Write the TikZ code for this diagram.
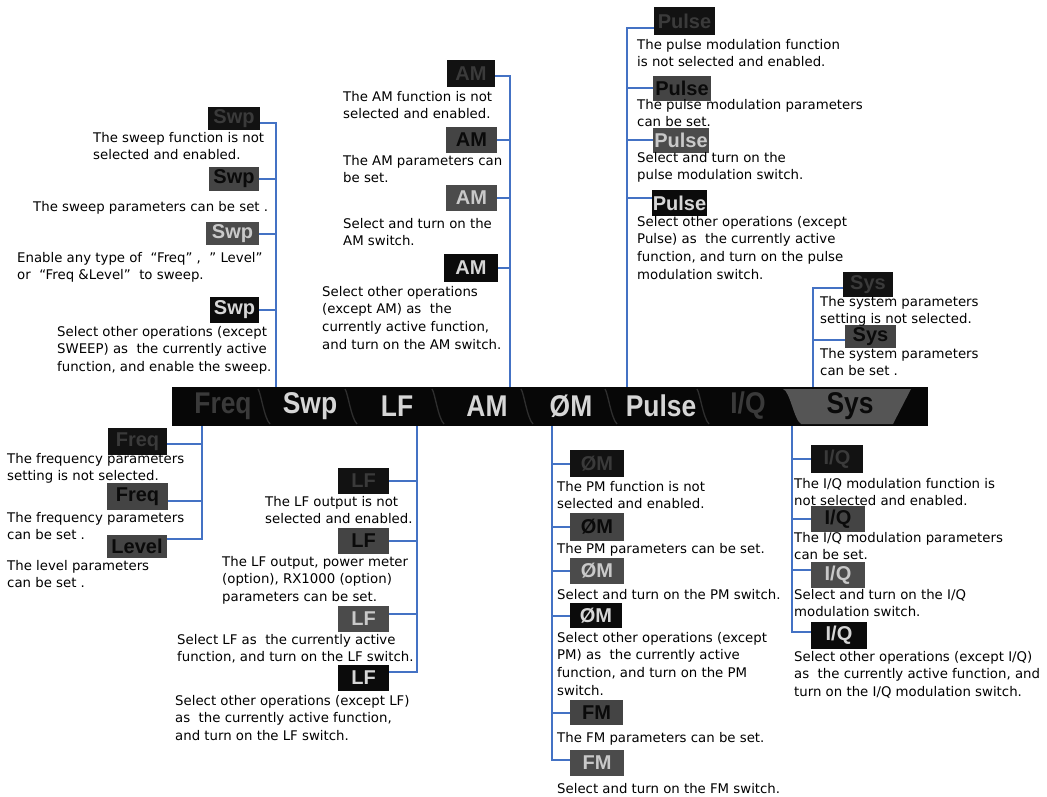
\documentclass[tikz,border=0pt]{standalone}
\usepackage{graphicx}
\usepackage{fontspec}
\setmainfont{DejaVu Sans}
\newfontfamily\iconfont{Liberation Sans}
\newcommand{\tabtxt}[1]{\scalebox{0.88}[1]{#1}}
\definecolor{linkblue}{RGB}{68,114,196}
\definecolor{dimfill}{HTML}{121212}
\definecolor{dimtext}{HTML}{3A3A3A}
\definecolor{setfill}{HTML}{444444}
\definecolor{settext}{HTML}{0A0A0A}
\definecolor{onfill}{HTML}{4B4B4B}
\definecolor{ontext}{HTML}{C9C9C9}
\definecolor{actfill}{HTML}{0B0B0B}
\definecolor{acttext}{HTML}{D6D6D6}
\definecolor{barfill}{HTML}{070707}
\definecolor{sepcol}{HTML}{2E2E2E}
\definecolor{systab}{HTML}{555555}
\begin{document}
\begin{tikzpicture}[x=1pt,y=-1pt,
  conn/.style={draw=linkblue, line width=2pt},
  desc/.style={anchor=north west, inner sep=0pt, align=left, text=black,
    font=\fontsize{13.3}{17.6}\selectfont},
  icon/.style={inner sep=0pt, font=\iconfont\bfseries\fontsize{20}{20}\selectfont},
  icdim/.style={icon, fill=dimfill, text=dimtext},
  icset/.style={icon, fill=setfill, text=settext},
  icon on/.style={icon, fill=onfill, text=ontext},
  icact/.style={icon, fill=actfill, text=acttext},
  tablabel/.style={inner sep=0pt, font=\iconfont\bfseries\fontsize{30}{30}\selectfont},
  sepline/.style={draw=sepcol, line width=1.3pt}
]
\useasboundingbox (0,0) rectangle (1047,797);
\fill[white] (0,0) rectangle (1047,797);

% ---------- main bar ----------
\node[fill=barfill, inner sep=0pt, minimum width=756pt, minimum height=39pt] (bar) at (550,406.5) {};
\fill[systab] (783,389) .. controls (790,391) and (794,420) .. (801,424) -- (893,424) -- (911,389) -- cycle;
\foreach \s in {258,345,432,521,605,697}
  \draw[sepline] (\s,389) .. controls (\s+3,393) and (\s+6,418) .. (\s+12,424);
\node[tablabel, text=dimtext] (tfreq) at (223,406) {\tabtxt{Freq}};
\node[tablabel, text=acttext] (tswp) at (310,406) {\tabtxt{Swp}};
\node[tablabel, text=acttext] (tlf) at (397,406) {\tabtxt{LF}};
\node[tablabel, text=acttext] (tam) at (487,406) {\tabtxt{AM}};
\node[tablabel, text=acttext] (tpm) at (571,406) {\tabtxt{ØM}};
\node[tablabel, text=acttext] (tpulse) at (661,406) {\tabtxt{Pulse}};
\node[tablabel, text=dimtext] (tiq) at (748,406) {\tabtxt{I/Q}};
\node[tablabel, text=settext] (tsys) at (850,406) {\tabtxt{Sys}};

\coordinate (swpB) at (276,387);
\coordinate (amB) at (510,387);
\coordinate (pulseB) at (627,387);
\coordinate (sysB) at (813,387);
\coordinate (freqB) at (202,426);
\coordinate (lfB) at (417,426);
\coordinate (pmB) at (552,426);
\coordinate (iqB) at (792,426);

% ---------- Swp group ----------
\node[icdim, minimum width=52pt, minimum height=23pt] (s1) at (234,118.5) {Swp};
\node[icset, minimum width=50pt, minimum height=24pt] (s2) at (234,179) {Swp};
\node[icon on, minimum width=53pt, minimum height=23pt] (s3) at (232.5,233.5) {Swp};
\node[icact, minimum width=49pt, minimum height=26pt] (s4) at (234.5,310) {Swp};
\draw[conn] ([yshift=-5pt]s1.east) -| (swpB);
\draw[conn] (s2.east) -- (s2.east -| swpB);
\draw[conn] (s3.east) -- (s3.east -| swpB);
\draw[conn] (s4.east) -- (s4.east -| swpB);
\node[desc] (ds1) at (93,132) {The sweep function is not\\selected and enabled.};
\node[desc] (ds2) at (33,201) {The sweep parameters can be set .};
\node[desc] (ds3) at (17,252) {Enable any type of\ \ “Freq”\ ,\ \ ” Level”\\or\ \ “Freq \&Level”\ \ to sweep.};
\node[desc] (ds4) at (57,326) {Select other operations (except\\SWEEP) as\ \ the currently active\\function, and enable the sweep.};

% ---------- AM group ----------
\node[icdim, minimum width=48pt, minimum height=27pt] (a1) at (471,73.5) {AM};
\node[icset, minimum width=51pt, minimum height=26pt] (a2) at (471.5,140) {AM};
\node[icon on, minimum width=51pt, minimum height=26pt] (a3) at (471.5,198) {AM};
\node[icact, minimum width=54pt, minimum height=28pt] (a4) at (471,268) {AM};
\draw[conn] ([yshift=-3pt]a1.east) -| (amB);
\draw[conn] (a2.east) -- (a2.east -| amB);
\draw[conn] (a3.east) -- (a3.east -| amB);
\draw[conn] (a4.east) -- (a4.east -| amB);
\node[desc] (da1) at (343,91) {The AM function is not\\selected and enabled.};
\node[desc] (da2) at (343,155) {The AM parameters can\\be set.};
\node[desc] (da3) at (343,218) {Select and turn on the\\AM switch.};
\node[desc] (da4) at (322,286) {Select other operations\\(except AM) as\ \ the\\currently active function,\\and turn on the AM switch.};

% ---------- Pulse group ----------
\node[icdim, minimum width=61pt, minimum height=28pt] (p1) at (684.5,21) {Pulse};
\node[icset, minimum width=58pt, minimum height=25pt] (p2) at (682,88.5) {Pulse};
\node[icon on, minimum width=56pt, minimum height=25pt] (p3) at (681,140.5) {Pulse};
\node[icact, minimum width=55pt, minimum height=26pt] (p4) at (679.5,203) {Pulse};
\draw[conn] ([yshift=-7pt]p1.west) -| (pulseB);
\draw[conn] (p2.west) -- (p2.west -| pulseB);
\draw[conn] (p3.west) -- (p3.west -| pulseB);
\draw[conn] ([yshift=5pt]p4.west) -- ([yshift=5pt]p4.west -| pulseB);
\node[desc] (dp1) at (637,39) {The pulse modulation function\\is not selected and enabled.};
\node[desc] (dp2) at (637,99) {The pulse modulation parameters\\can be set.};
\node[desc] (dp3) at (637,152) {Select and turn on the\\pulse modulation switch.};
\node[desc] (dp4) at (637,216) {Select other operations (except\\Pulse) as\ \ the currently active\\function, and turn on the pulse\\modulation switch.};

% ---------- Sys group ----------
\node[icdim, minimum width=50pt, minimum height=25pt] (y1) at (868,284.5) {Sys};
\node[icset, minimum width=51pt, minimum height=23pt] (y2) at (870.5,336.5) {Sys};
\draw[conn] ([yshift=-3pt]y1.west) -| (sysB);
\draw[conn] ([yshift=-3pt]y2.west) -- ([yshift=-3pt]y2.west -| sysB);
\node[desc] (dy1) at (820,296) {The system parameters\\setting is not selected.};
\node[desc] (dy2) at (820,348) {The system parameters\\can be set .};

% ---------- Freq group ----------
\node[icdim, minimum width=59pt, minimum height=27pt] (f1) at (137.5,441.5) {Freq};
\node[icset, minimum width=61pt, minimum height=27pt] (f2) at (137.5,496.5) {Freq};
\node[icset, minimum width=60pt, minimum height=23pt] (f3) at (137,546.5) {Level};
\draw[conn] (freqB) |- ([yshift=8pt]f3.east);
\draw[conn] ([yshift=-2pt]f1.east) -- ([yshift=-2pt]f1.east -| freqB);
\draw[conn] ([yshift=-4pt]f2.east) -- ([yshift=-4pt]f2.east -| freqB);
\node[desc] (df1) at (7,453) {The frequency parameters\\setting is not selected.};
\node[desc] (df2) at (7,512) {The frequency parameters\\can be set .};
\node[desc] (df3) at (7,560) {The level parameters\\can be set .};

% ---------- LF group ----------
\node[icdim, minimum width=51pt, minimum height=26pt] (l1) at (363.5,481) {LF};
\node[icset, minimum width=51pt, minimum height=26pt] (l2) at (363.5,541) {LF};
\node[icon on, minimum width=51pt, minimum height=26pt] (l3) at (363.5,619) {LF};
\node[icact, minimum width=51pt, minimum height=26pt] (l4) at (363.5,678) {LF};
\draw[conn] (lfB) |- ([yshift=6pt]l4.east);
\draw[conn] (l1.east) -- (l1.east -| lfB);
\draw[conn] (l2.east) -- (l2.east -| lfB);
\draw[conn] ([yshift=5pt]l3.east) -- ([yshift=5pt]l3.east -| lfB);
\node[desc] (dl1) at (265,496) {The LF output is not\\selected and enabled.};
\node[desc] (dl2) at (222,556) {The LF output, power meter\\(option), RX1000 (option)\\parameters can be set.};
\node[desc] (dl3) at (177,634) {Select LF as\ \ the currently active\\function, and turn on the LF switch.};
\node[desc] (dl4) at (175,695) {Select other operations (except LF)\\as\ \ the currently active function,\\and turn on the LF switch.};

% ---------- PM / FM group ----------
\node[icdim, minimum width=54pt, minimum height=27pt] (m1) at (597,463.5) {ØM};
\node[icset, minimum width=54pt, minimum height=28pt] (m2) at (597,527) {ØM};
\node[icon on, minimum width=54pt, minimum height=26pt] (m3) at (597,571) {ØM};
\node[icact, minimum width=52pt, minimum height=25pt] (m4) at (596,615.5) {ØM};
\node[icset, minimum width=53pt, minimum height=25pt] (m5) at (596.5,712.5) {FM};
\node[icon on, minimum width=54pt, minimum height=26pt] (m6) at (597,763) {FM};
\draw[conn] (pmB) |- ([yshift=3pt]m6.west);
\draw[conn] (m1.west) -- (m1.west -| pmB);
\draw[conn] (m2.west) -- (m2.west -| pmB);
\draw[conn] (m3.west) -- (m3.west -| pmB);
\draw[conn] (m4.west) -- (m4.west -| pmB);
\draw[conn] (m5.west) -- (m5.west -| pmB);
\node[desc] (dm1) at (557,481) {The PM function is not\\selected and enabled.};
\node[desc] (dm2) at (557,543) {The PM parameters can be set.};
\node[desc] (dm3) at (557,589) {Select and turn on the PM switch.};
\node[desc] (dm4) at (557,632) {Select other operations (except\\PM) as\ \ the currently active\\function, and turn on the PM\\switch.};
\node[desc] (dm5) at (557,732) {The FM parameters can be set.};
\node[desc] (dm6) at (557,783) {Select and turn on the FM switch.};

% ---------- I/Q group ----------
\node[icdim, minimum width=52pt, minimum height=28pt] (q1) at (837,459) {I/Q};
\node[icset, minimum width=54pt, minimum height=26pt] (q2) at (838,519) {I/Q};
\node[icon on, minimum width=54pt, minimum height=26pt] (q3) at (838,575) {I/Q};
\node[icact, minimum width=56pt, minimum height=27pt] (q4) at (839,635) {I/Q};
\draw[conn] (iqB) |- ([yshift=3pt]q4.west);
\draw[conn] (q1.west) -- (q1.west -| iqB);
\draw[conn] (q2.west) -- (q2.west -| iqB);
\draw[conn] ([yshift=5pt]q3.west) -- ([yshift=5pt]q3.west -| iqB);
\node[desc] (dq1) at (794,478) {The I/Q modulation function is\\not selected and enabled.};
\node[desc] (dq2) at (794,532) {The I/Q modulation parameters\\can be set.};
\node[desc] (dq3) at (794,589) {Select and turn on the I/Q\\modulation switch.};
\node[desc] (dq4) at (794,651) {Select other operations (except I/Q)\\as\ \ the currently active function, and\\turn on the I/Q modulation switch.};
\end{tikzpicture}
\end{document}
